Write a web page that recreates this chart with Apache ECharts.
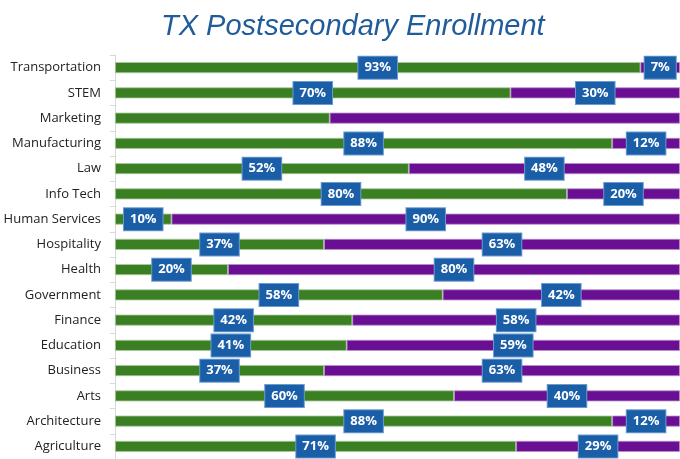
<!DOCTYPE html>
<html><head><meta charset="utf-8">
<script src="https://cdn.jsdelivr.net/npm/echarts@6/dist/echarts.min.js"></script>
<style>html,body{margin:0;padding:0;background:#fff}#c{width:680px;height:459px}</style>
</head><body><div id="c"></div>
<script>
const categories = ['Agriculture','Architecture','Arts','Business','Education','Finance','Government','Health','Hospitality','Human Services','Info Tech','Law','Manufacturing','Marketing','STEM','Transportation'];
const greenValues = [71,88,60,37,41,42,58,20,37,10,80,52,88,38,70,93];
const purpleValues = [29,12,40,63,59,58,42,80,63,90,20,48,12,62,30,7];
const hiddenLabels = ['Marketing'];

const labelStyle = {
  show: true, position: 'inside', formatter: '{c}%',
  color: '#fff', fontWeight: 'bold', fontSize: 13, fontFamily: 'Open Sans',
  backgroundColor: '#1A5EA8', borderColor: '#6b9bd0', borderWidth: 1,
  padding: [5, 6, 4, 6]
};
function mk(vals){
  return vals.map((v,i)=> hiddenLabels.includes(categories[i]) ? {value:v, label:{show:false}} : v);
}
const chart = echarts.init(document.getElementById('c'));
chart.setOption({
  animation: false,
  title: { text: 'TX Postsecondary Enrollment', left: 156, top: 7,
    textStyle: { fontFamily: 'Liberation Sans', fontStyle: 'italic', fontWeight: 'normal', fontSize: 29, color: '#1F5C99' } },
  grid: { left: 115, right: 0, top: 55, bottom: -3 },
  xAxis: { type: 'value', min: 0, max: 100, show: false },
  yAxis: { type: 'category', data: categories,
    axisLine: { show: true, lineStyle: { color: '#d9d9d9' } },
    axisTick: { show: true, length: 5, lineStyle: { color: '#d9d9d9' } },
    axisLabel: { color: '#222', fontSize: 13, fontFamily: 'Open Sans', margin: 14 } },
  series: [
    { type: 'bar', stack: 's', data: mk(greenValues), barWidth: 11,
      itemStyle: { color: '#3B7F23', borderColor: '#a9c99c', borderWidth: 0.8 }, label: labelStyle },
    { type: 'bar', stack: 's', data: mk(purpleValues), barWidth: 11,
      itemStyle: { color: '#6A0E93', borderColor: '#b892c8', borderWidth: 0.8 }, label: labelStyle }
  ]
});
</script></body></html>
